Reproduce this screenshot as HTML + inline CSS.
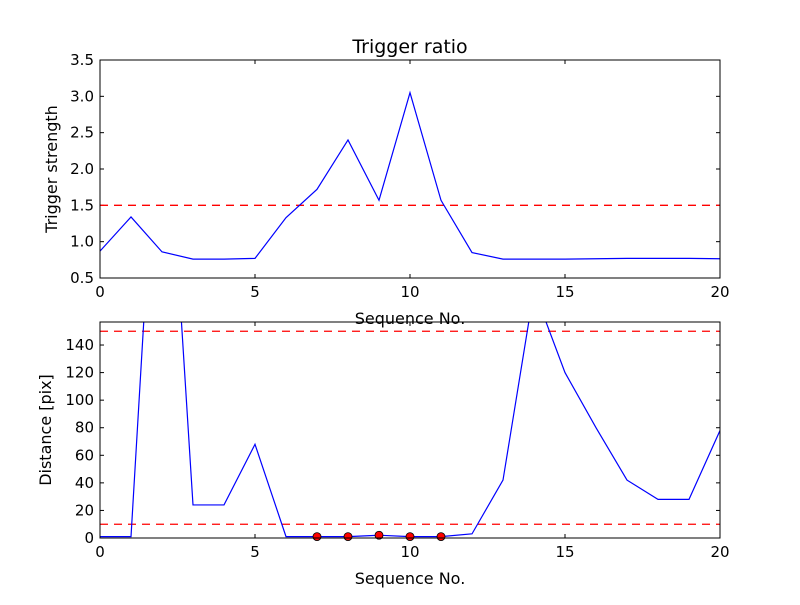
<!DOCTYPE html>
<html><head><meta charset="utf-8"><style>
body{margin:0;background:#fff}
svg text{font-family:"DejaVu Sans","Liberation Sans",sans-serif;fill:#000}
</style></head><body>
<svg id="chart" width="800" height="600" viewBox="0 0 800 600" xmlns="http://www.w3.org/2000/svg">
<rect width="800" height="600" fill="#fff"/>
<defs>
<clipPath id="c1"><rect x="100" y="60" width="620" height="218"/></clipPath>
<clipPath id="c2"><rect x="100" y="322" width="620" height="216"/></clipPath>
</defs>
<g id="g"></g>
</svg>
<script>
const seq = [0,1,2,3,4,5,6,7,8,9,10,11,12,13,14,15,16,17,18,19,20];
const strength = [0.87,1.34,0.86,0.76,0.76,0.77,1.33,1.72,2.40,1.57,3.05,1.57,0.85,0.76,0.76,0.76,0.765,0.77,0.77,0.77,0.765];
const distance = [1,1,380,24,24,68,1,1,1,2,1,1,3,42,180,120,80,42,28,28,78];
const dotX = [7,8,9,10,11];
const dotY = [1,1,2,1,1];
const xTicks = [0,5,10,15,20];
const topTicks = [0.5,1.0,1.5,2.0,2.5,3.0,3.5];
const botTicks = [0,20,40,60,80,100,120,140];
const topThreshold = [1.5];
const botThresholds = [10,150];

const NS="http://www.w3.org/2000/svg";
const g=document.getElementById('g');
function mk(t,a,p){const e=document.createElementNS(NS,t);for(const k in a)e.setAttribute(k,a[k]);(p||g).appendChild(e);return e;}
const X0=100,X1=720;
const sx=v=>X0+(v-0)/(20-0)*(X1-X0);
function panel(name,yTop,yBot,ymin,ymax,ticks,fmt,clip){
  const sy=v=>yBot-(v-ymin)/(ymax-ymin)*(yBot-yTop);
  const grp=mk('g',{});
  
  
  xTicks.forEach(t=>{
    const x=sx(t);
    mk('line',{x1:x,x2:x,y1:yBot,y2:yBot-4,stroke:'#000'},grp);
    mk('line',{x1:x,x2:x,y1:yTop,y2:yTop+4,stroke:'#000'},grp);
    const tx=mk('text',{x:x,y:yBot+19,'text-anchor':'middle','font-size':'15'},grp);
    tx.textContent=t;
    
    
  });
  ticks.forEach(t=>{
    const y=sy(t);
    mk('line',{x1:X0,x2:X0+4,y1:y,y2:y,stroke:'#000'},grp);
    mk('line',{x1:X1,x2:X1-4,y1:y,y2:y,stroke:'#000'},grp);
    const tx=mk('text',{x:X0-6,y:y+5,'text-anchor':'end','font-size':'15'},grp);
    tx.textContent=fmt(t);
    
    
  });
  return {sy,grp};
}
function poly(grp,xs,ys,sy,clip,name){
  const pts=xs.map((v,i)=>sx(v)+','+sy(ys[i])).join(' ');
  const p=mk('polyline',{points:pts,fill:'none',stroke:'#0000ff','stroke-width':'1.2','clip-path':'url(#'+clip+')'},grp);
  
  
}
function thr(grp,v,sy,clip){
  const l=mk('line',{x1:X0,x2:X1,y1:sy(v),y2:sy(v),stroke:'#ff0000','stroke-width':'1.3','stroke-dasharray':'8,6','clip-path':'url(#'+clip+')'},grp);
  
  
}
const T=panel('trigger-ratio',60,278,0.5,3.5,topTicks,t=>t.toFixed(1),'c1');
topThreshold.forEach(v=>thr(T.grp,v,T.sy,'c1'));
poly(T.grp,seq,strength,T.sy,'c1','trigger-strength-line');
mk('rect',{x:X0,y:60,width:620,height:218,fill:'none',stroke:'#000'},T.grp);
let t=mk('text',{x:410,y:53,'text-anchor':'middle','font-size':'19'});t.textContent='Trigger ratio';

t=mk('text',{x:410,y:324,'text-anchor':'middle','font-size':'16'});t.textContent='Sequence No.';

t=mk('text',{x:57,y:169,'text-anchor':'middle','font-size':'16',transform:'rotate(-90 57 169)'});t.textContent='Trigger strength';

const B=panel('distance',322,538,0,156.7,botTicks,t=>String(t),'c2');
botThresholds.forEach(v=>thr(B.grp,v,B.sy,'c2'));
poly(B.grp,seq,distance,B.sy,'c2','distance-line');
dotX.forEach((v,i)=>{
  const c=mk('circle',{cx:sx(v),cy:B.sy(dotY[i]),r:4,fill:'#ff0000',stroke:'#000','stroke-width':'0.8'},B.grp);
  
  
});
mk('rect',{x:X0,y:322,width:620,height:216,fill:'none',stroke:'#000'},B.grp);
t=mk('text',{x:410,y:584,'text-anchor':'middle','font-size':'16'});t.textContent='Sequence No.';

t=mk('text',{x:51,y:430,'text-anchor':'middle','font-size':'16',transform:'rotate(-90 51 430)'});t.textContent='Distance [pix]';

</script>
</body></html>
